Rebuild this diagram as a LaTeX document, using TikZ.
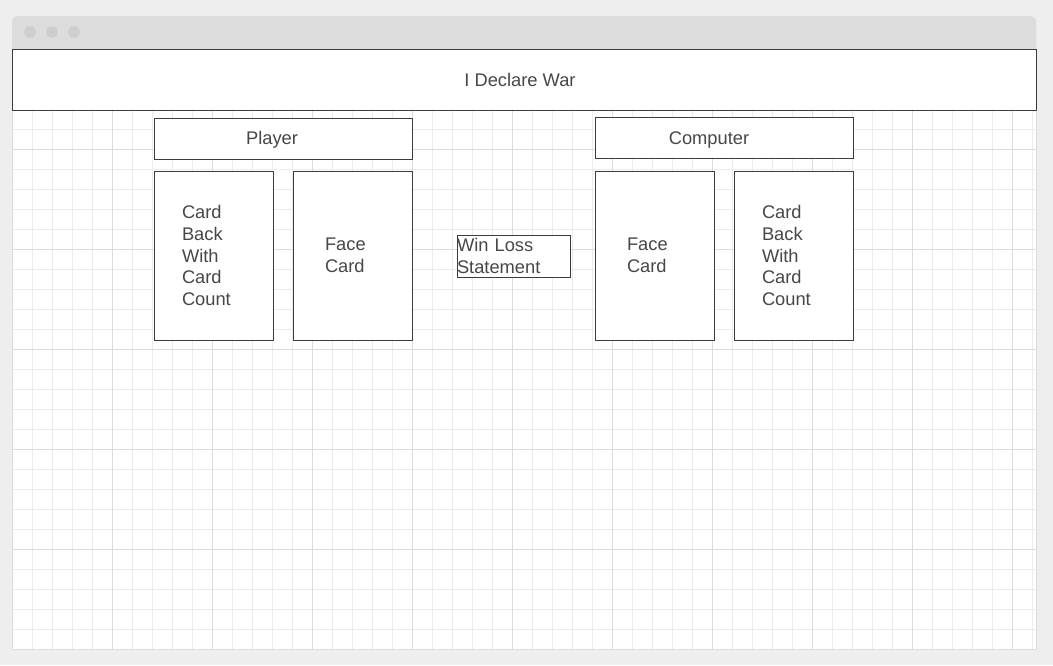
\documentclass[tikz,border=0pt]{standalone}
\usepackage{fontspec}
\setmainfont{Liberation Sans}
\usetikzlibrary{positioning}
\definecolor{pagebg}{HTML}{EEEEEE}
\definecolor{barbg}{HTML}{DCDCDC}
\definecolor{dotgray}{HTML}{CDCDCD}
\definecolor{gridminor}{HTML}{EBEBEB}
\definecolor{gridmajor}{HTML}{DCDCDC}
\definecolor{ink}{HTML}{3C3C3C}
\definecolor{textgray}{HTML}{474747}

\begin{document}
\begin{tikzpicture}[x = 1pt, y = -1pt,
		box/.style = { draw = ink, line width = 1pt, fill = white, text = textgray, font = \fontsize{18.3}{21.6}\selectfont },
		header/.style = { box, minimum width = 258pt, minimum height = 41pt },
		cardback/.style = { box, minimum height = 169pt, text width = 63pt, inner xsep = 28pt, inner ysep = 0pt, align = left },
		cardface/.style = { box, minimum height = 169pt, text width = 55pt, inner xsep = 32pt, inner ysep = 0pt, align = left },
		winloss/.style = { box, minimum width = 113pt, minimum height = 42pt, text width = 113pt, inner sep = 0pt, align = left },
		title/.style = { text = textgray, font = \fontsize{18.3}{21.6}\selectfont, inner sep = 0pt, anchor = base },
		dot/.style = { circle, fill = dotgray, minimum size = 11.5pt, inner sep = 0pt }]
		\useasboundingbox (0,0) rectangle (1053,665);
		\fill [pagebg] (0,0) rectangle (1053,665);

		% window frame, title bar and its three dots
		\fill [barbg, rounded corners = 5pt] (12,60) |- (1036,16) -- (1036,60) -- cycle;
		\fill [white] (12,49) rectangle (1036,649);
		\foreach \i/\x in {1/30, 2/52, 3/74}
			\node [dot] (dot\i) at (\x,32) {};

		% background grid, light every 20, darker every 100
		\foreach \x in {32, 52, ..., 1032}
			\draw [gridminor, line width = 0.8pt] (\x,49) -- (\x,649);
		\foreach \y in {69, 89, ..., 629}
			\draw [gridminor, line width = 0.8pt] (12,\y) -- (1036,\y);
		\foreach \x in {112, 212, ..., 1012}
			\draw [gridmajor, line width = 0.8pt] (\x,49) -- (\x,649);
		\foreach \y in {149, 249, ..., 549}
			\draw [gridmajor, line width = 0.8pt] (12,\y) -- (1036,\y);
		\draw [gridmajor, line width = 0.8pt] (12,49) rectangle (1036,649);

		\node [box, minimum width = 1024pt, minimum height = 61pt] (banner) at (524,79.5) {};
		\node [title] (bannertext) at ([xshift = -4pt, yshift = -6.5pt]banner.center) {I Declare War};

		\node [header] (player) at (283,138.5) {};
		\node [title] (playertext) at ([xshift = -11pt, yshift = -5.5pt]player.center) {Player};
		\node [header] (computer) at (724,137.5) {};
		\node [title] (computertext) at ([xshift = -15pt, yshift = -6.5pt]computer.center) {Computer};

		\node [cardback] (pback) at (213.5,255.5) {Card\\Back\\With\\Card\\Count};
		\node [cardface, right = 19pt of pback] (pface) {Face\\Card};

		\node [winloss] (result) at (513.5,256) {Win Loss\\Statement};

		\node [cardface] (cface) at (654.5,255.5) {Face\\Card};
		\node [cardback, right = 19pt of cface] (cback) {Card\\Back\\With\\Card\\Count};
	\end{tikzpicture}
\end{document}
